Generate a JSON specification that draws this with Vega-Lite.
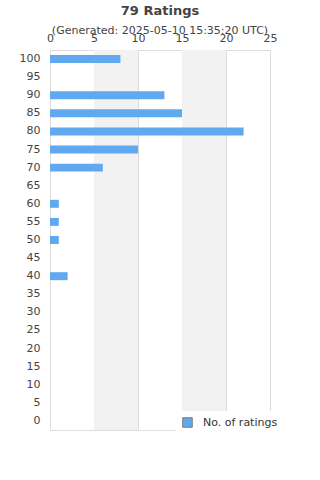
{
  "$schema": "https://vega.github.io/schema/vega-lite/v6.json",
  "autosize": "none",
  "width": 220,
  "height": 380,
  "padding": {"left": 50, "top": 50, "right": 50, "bottom": 50},
  "background": "white",
  "config": {
    "font": "DejaVu Sans",
    "view": {"stroke": "#dddddd"},
    "axis": {"labelColor": "#444444", "labelFontSize": 11, "gridColor": "#dddddd", "domainColor": "#dddddd", "tickColor": "#dddddd"}
  },
  "title": {
    "text": "79 Ratings",
    "subtitle": "(Generated: 2025-05-10 15:35:20 UTC)",
    "fontSize": 13,
    "fontWeight": "bold",
    "color": "#444444",
    "subtitleFontSize": 11,
    "subtitleColor": "#444444",
    "subtitlePadding": 7,
    "anchor": "middle",
    "offset": -4
  },
  "datasets": {
    "ratings": [
      {"rating": "100", "count": 8},
      {"rating": "95", "count": 0},
      {"rating": "90", "count": 13},
      {"rating": "85", "count": 15},
      {"rating": "80", "count": 22},
      {"rating": "75", "count": 10},
      {"rating": "70", "count": 6},
      {"rating": "65", "count": 0},
      {"rating": "60", "count": 1},
      {"rating": "55", "count": 1},
      {"rating": "50", "count": 1},
      {"rating": "45", "count": 0},
      {"rating": "40", "count": 2},
      {"rating": "35", "count": 0},
      {"rating": "30", "count": 0},
      {"rating": "25", "count": 0},
      {"rating": "20", "count": 0},
      {"rating": "15", "count": 0},
      {"rating": "10", "count": 0},
      {"rating": "5", "count": 0},
      {"rating": "0", "count": 0}
    ],
    "bands": [
      {"start": 5, "end": 10},
      {"start": 15, "end": 20}
    ]
  },
  "layer": [
    {
      "data": {"name": "bands"},
      "mark": {"type": "rect", "color": "#f2f2f2"},
      "encoding": {
        "x": {"field": "start", "type": "quantitative", "scale": {"domain": [0, 25], "nice": false, "zero": true},
              "axis": {"orient": "top", "values": [0, 5, 10, 15, 20, 25], "title": null, "grid": true, "ticks": false, "domain": false, "labelPadding": 7, "labelFlush": false}},
        "x2": {"field": "end"}
      }
    },
    {
      "data": {"name": "ratings"},
      "mark": {"type": "bar"},
      "encoding": {
        "y": {"field": "rating", "type": "nominal",
              "scale": {"domain": ["100","95","90","85","80","75","70","65","60","55","50","45","40","35","30","25","20","15","10","5","0"], "paddingInner": 0.56, "paddingOuter": 0.28},
              "axis": {"title": null, "ticks": false, "domain": true, "labelPadding": 10, "grid": false}},
        "x": {"field": "count", "type": "quantitative", "scale": {"domain": [0, 25], "nice": false}},
        "color": {"datum": "No. of ratings", "type": "nominal", "scale": {"range": ["#60a8f0"]},
                  "legend": {"title": null, "orient": "none", "legendX": 126, "legendY": 361, "fillColor": "white", "padding": 6, "symbolType": "square", "symbolSize": 90, "symbolStrokeColor": "#777777", "symbolStrokeWidth": 1, "labelFontSize": 11, "labelColor": "#333333", "labelOffset": 10}}
      }
    }
  ]
}
